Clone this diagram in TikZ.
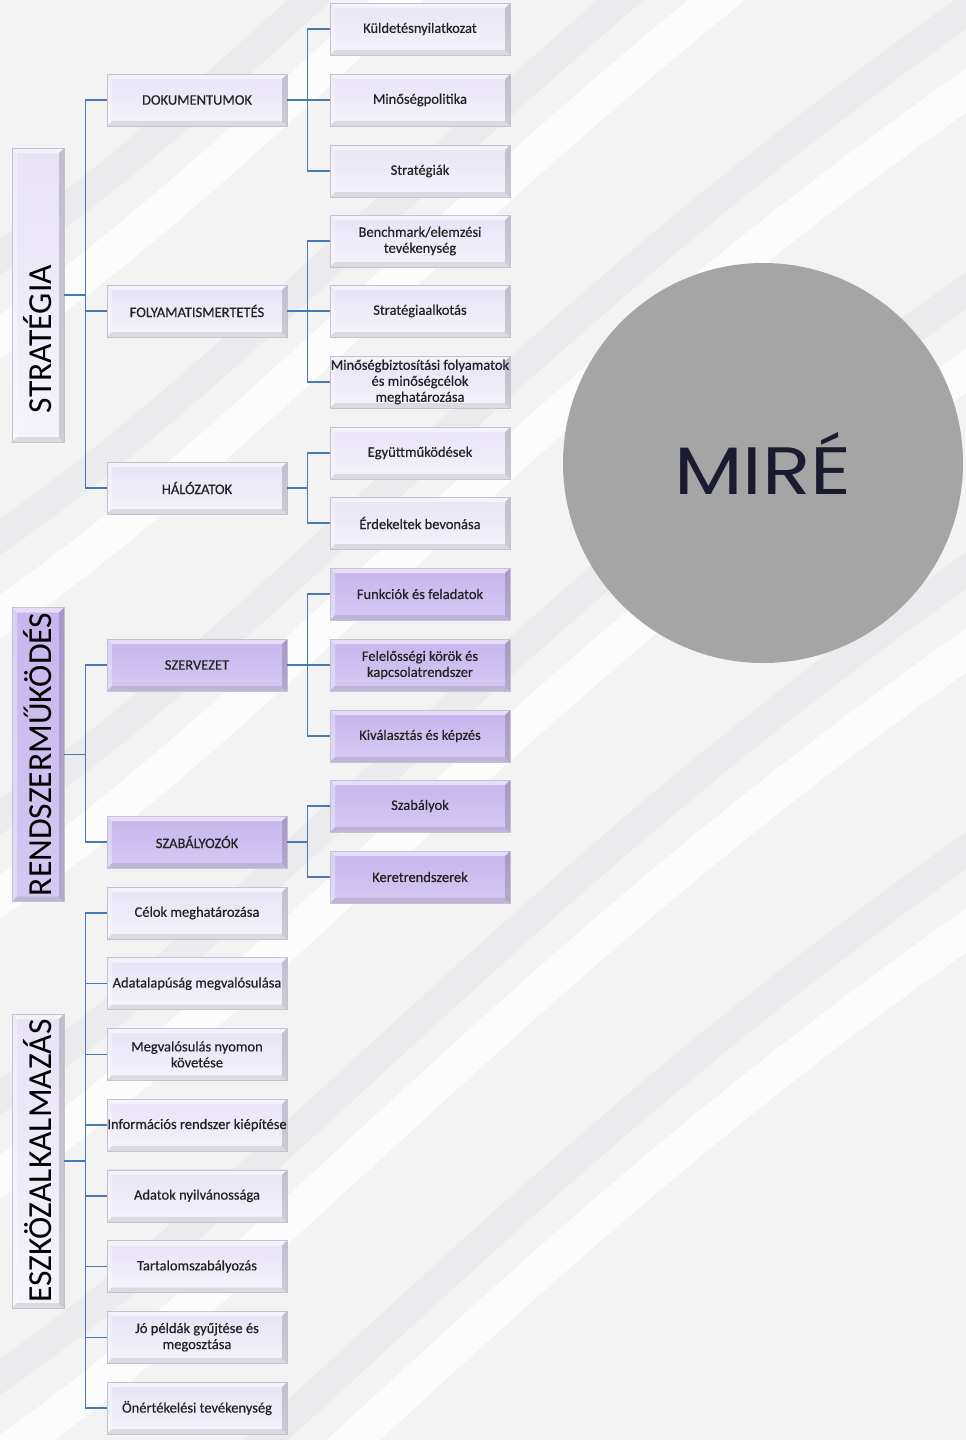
\documentclass[tikz,border=0pt]{standalone}
\usepackage{fontspec}
\setmainfont{Carlito}
\newfontfamily\boxfont{Carlito}[FakeBold=0.5]
\newfontfamily\mirefont{Poppins}
\usetikzlibrary{calc}
\definecolor{conn}{HTML}{4A78B0}
\definecolor{lightfill}{HTML}{E7E2F5}
\definecolor{lightfillb}{HTML}{F5F3FB}
\definecolor{darkfill}{HTML}{C6B5EC}
\definecolor{darkfillb}{HTML}{D5C9F2}
\definecolor{edgec}{HTML}{C4C2CE}
\definecolor{txt}{HTML}{222222}
\definecolor{bg}{HTML}{F3F3F4}
\definecolor{band}{HTML}{DEDEE1}
\definecolor{circ}{HTML}{A5A5A5}
\definecolor{miretxt}{HTML}{1B1B2F}
\tikzset{
  bevel/.style={path picture={
    \fill[white,opacity=.55] (path picture bounding box.north west) -- (path picture bounding box.north east) -- ([xshift=-5pt,yshift=-5pt]path picture bounding box.north east) -- ([xshift=5pt,yshift=-5pt]path picture bounding box.north west) -- cycle;
    \fill[white,opacity=.35] (path picture bounding box.north west) -- (path picture bounding box.south west) -- ([xshift=5pt,yshift=5pt]path picture bounding box.south west) -- ([xshift=5pt,yshift=-5pt]path picture bounding box.north west) -- cycle;
    \fill[black,opacity=.10] (path picture bounding box.south west) -- (path picture bounding box.south east) -- ([xshift=-5pt,yshift=5pt]path picture bounding box.south east) -- ([xshift=5pt,yshift=5pt]path picture bounding box.south west) -- cycle;
    \fill[black,opacity=.16] (path picture bounding box.north east) -- (path picture bounding box.south east) -- ([xshift=-5pt,yshift=5pt]path picture bounding box.south east) -- ([xshift=-5pt,yshift=-5pt]path picture bounding box.north east) -- cycle;
  }},
  bx/.style={minimum width=180pt, minimum height=52pt, inner sep=0pt, align=center,
    font=\boxfont\fontsize{14.5}{16}\selectfont, text=txt, draw=edgec, line width=0.6pt,
    top color=lightfill, bottom color=lightfillb, bevel},
  dbx/.style={bx, top color=darkfill, bottom color=darkfillb},
  rootbx/.style={bx, minimum width=52pt, minimum height=294pt, font=\rmfamily\fontsize{33.6}{34}\selectfont, text=black},
  drootbx/.style={rootbx, top color=darkfill, bottom color=darkfillb},
  cn/.style={draw=conn, line width=1.4pt},
}
\begin{document}
\begin{tikzpicture}[x=1pt,y=-1pt]
\useasboundingbox (0,0) rectangle (966,1440);
% background
\fill[bg] (0,0) rectangle (966,1440);
\begin{scope}
\clip (0,0) rectangle (966,1440);
\foreach \o in {0,280,560,840,1120,1400}{
  \draw[band, line width=30pt, opacity=.35] (-100,\o+320) .. controls (250,\o+120) and (500,\o-250) .. (1100,\o-640);
  \draw[white, line width=36pt, opacity=.8] (-100,\o+400) .. controls (250,\o+200) and (500,\o-170) .. (1100,\o-560);
}
\end{scope}

% circle
\node[circle, fill=circ, minimum size=400pt, inner sep=0pt, text=miretxt, font=\mirefont\fontsize{67}{67}\selectfont] (mire) at (763,463) {\scalebox{1.19}[1]{MIRÉ}};

% roots
\node[rootbx] (strat) at (38,295) {\rotatebox{90}{STRATÉGIA\hspace{88pt}}};
\node[drootbx] (rend) at (38,754.5) {\rotatebox{90}{RENDSZERMŰKÖDÉS}};
\node[rootbx] (eszk) at (38,1161) {\rotatebox{90}{ESZKÖZALKALMAZÁS}};

% level 1
\node[bx] (dok) at (197,100) {DOKUMENTUMOK};
\node[bx] (fol) at (197,311) {FOLYAMATISMERTETÉS};
\node[bx] (hal) at (197,488) {HÁLÓZATOK};
\node[dbx] (szerv) at (197,665) {SZERVEZET};
\node[dbx] (szab) at (197,842) {SZABÁLYOZÓK};

% level 2
\node[bx] (kuld) at (420,29) {Küldetésnyilatkozat};
\node[bx] (minp) at (420,100) {Minőségpolitika};
\node[bx] (strg) at (420,171) {Stratégiák};
\node[bx] (bench) at (420,241) {Benchmark/elemzési\\tevékenység};
\node[bx] (stalk) at (420,311) {Stratégiaalkotás};
\node[bx] (minb) at (420,382) {Minőségbiztosítási folyamatok\\és minőségcélok\\meghatározása};
\node[bx] (egy) at (420,453) {Együttműködések};
\node[bx] (erd) at (420,523) {Érdekeltek bevonása};
\node[dbx] (funk) at (420,594) {Funkciók és feladatok};
\node[dbx] (fel) at (420,665) {Felelősségi körök és\\kapcsolatrendszer};
\node[dbx] (kiv) at (420,736) {Kiválasztás és képzés};
\node[dbx] (szly) at (420,806) {Szabályok};
\node[dbx] (ker) at (420,877) {Keretrendszerek};

% eszközalkalmazás children
\node[bx] (e1) at (197,913) {Célok meghatározása};
\node[bx] (e2) at (197,983.7) {Adatalapúság megvalósulása};
\node[bx] (e3) at (197,1054.4) {Megvalósulás nyomon\\követése};
\node[bx] (e4) at (197,1125.1) {Információs rendszer kiépítése};
\node[bx] (e5) at (197,1195.8) {Adatok nyilvánossága};
\node[bx] (e6) at (197,1266.5) {Tartalomszabályozás};
\node[bx] (e7) at (197,1337.2) {Jó példák gyűjtése és\\megosztása};
\node[bx] (e8) at (197,1408) {Önértékelési tevékenység};

% connectors root -> level 1
\draw[cn] (strat.east) -- ++(22,0);
\draw[cn] (dok.west) -- ++(-21,0) |- (hal.west);
\draw[cn] (fol.west) -- ++(-21,0);
\draw[cn] (rend.east) -- ++(22,0);
\draw[cn] (szerv.west) -- ++(-21,0) |- (szab.west);
\draw[cn] (eszk.east) -- ++(22,0);
\draw[cn] (e1.west) -- ++(-21,0) |- (e8.west);
\foreach \n in {e2,e3,e4,e5,e6,e7}{\draw[cn] (\n.west) -- ++(-21,0);}

% level 1 -> level 2
\draw[cn] (kuld.west) -- ++(-22,0) |- (strg.west);
\draw[cn] (dok.east) -- (minp.west);
\draw[cn] (bench.west) -- ++(-22,0) |- (minb.west);
\draw[cn] (fol.east) -- (stalk.west);
\draw[cn] (egy.west) -- ++(-22,0) |- (erd.west);
\draw[cn] (hal.east) -- ++(21,0);
\draw[cn] (funk.west) -- ++(-22,0) |- (kiv.west);
\draw[cn] (szerv.east) -- (fel.west);
\draw[cn] (szly.west) -- ++(-22,0) |- (ker.west);
\draw[cn] (szab.east) -- ++(21,0);
\end{tikzpicture}
\end{document}
